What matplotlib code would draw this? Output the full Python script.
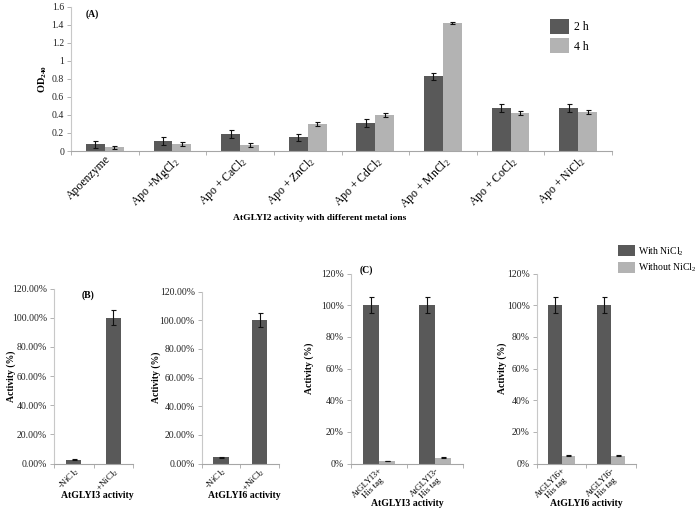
import matplotlib
matplotlib.use("Agg")
import matplotlib.pyplot as plt
import numpy as np

plt.rcParams['font.family'] = ['Liberation Serif', 'DejaVu Serif']
plt.rcParams['mathtext.fontset'] = 'custom'
plt.rcParams['mathtext.rm'] = 'Liberation Serif'
plt.rcParams['mathtext.bf'] = 'Liberation Serif:bold'
plt.rcParams['mathtext.default'] = 'regular'

# ---------------- data ----------------
a_categories = ['Apoenzyme', 'Apo +MgCl$_2$', 'Apo + CaCl$_2$', 'Apo + ZnCl$_2$',
                'Apo + CdCl$_2$', 'Apo + MnCl$_2$', 'Apo + CoCl$_2$', 'Apo + NiCl$_2$']
a_2h = [0.074, 0.114, 0.185, 0.152, 0.307, 0.83, 0.477, 0.473]
a_2h_err = [0.04, 0.045, 0.045, 0.04, 0.045, 0.04, 0.04, 0.045]
a_4h = [0.04, 0.078, 0.067, 0.30, 0.40, 1.419, 0.42, 0.43]
a_4h_err = [0.02, 0.02, 0.02, 0.02, 0.02, 0.015, 0.02, 0.02]
a_series = ['2 h', '4 h']
a_yticks = [0, 0.2, 0.4, 0.6, 0.8, 1.0, 1.2, 1.4, 1.6]
a_yticklabels = ['0', '0.2', '0.4', '0.6', '0.8', '1', '1.2', '1.4', '1.6']

b_categories = ['-NiCl$_2$', '+NiCl$_2$']
b3_values = [0.025, 1.00]
b3_err = [0.003, 0.05]
b6_values = [0.042, 1.00]
b6_err = [0.004, 0.05]
b_yticks = [0, 0.2, 0.4, 0.6, 0.8, 1.0, 1.2]
b_yticklabels = ['0.00%', '20.00%', '40.00%', '60.00%', '80.00%', '100.00%', '120.00%']

c3_categories = ['AtGLYI3+\nHis tag', 'AtGLYI3-\nHis tag']
c6_categories = ['AtGLYI6+\nHis tag', 'AtGLYI6-\nHis tag']
c_series = ['With NiCl$_2$', 'Without NiCl$_2$']
c3_with = [1.00, 1.00]
c3_with_err = [0.05, 0.05]
c3_without = [0.015, 0.035]
c3_without_err = [0.002, 0.003]
c6_with = [1.00, 1.00]
c6_with_err = [0.05, 0.05]
c6_without = [0.05, 0.05]
c6_without_err = [0.003, 0.003]
c_yticklabels = ['0%', '20%', '40%', '60%', '80%', '100%', '120%']

DARK = '#595959'
LIGHT = '#b3b3b3'
W, H = 699, 514

fig = plt.figure(figsize=(W / 100, H / 100), dpi=100)


def ax_px(left, right, top, bottom):
    return fig.add_axes([left / W, 1 - bottom / H, (right - left) / W, (bottom - top) / H])


def style(ax, n, ylim, yticks, yticklabels, ytick_fs):
    for s in ['top', 'right']:
        ax.spines[s].set_visible(False)
    ax.spines['left'].set_color('#c8c8c8')
    ax.spines['bottom'].set_color('#a6a6a6')
    ax.spines['left'].set_linewidth(0.8)
    ax.spines['bottom'].set_linewidth(0.8)
    ax.set_xlim(-0.5, n - 0.5)
    ax.set_ylim(*ylim)
    ax.set_yticks(yticks)
    ax.set_yticklabels(yticklabels, fontsize=ytick_fs, color='#222222')
    ax.tick_params(axis='y', length=3, width=0.6, color='#a6a6a6', pad=2)
    ax.set_xticks(np.arange(-0.5, n, 1.0), minor=True)
    ax.tick_params(axis='x', which='minor', length=3, width=0.6, color='#a6a6a6')
    ax.tick_params(axis='x', which='major', length=0, pad=2)


ekw = dict(ecolor='#111111', elinewidth=0.8, capsize=1.8, capthick=0.8)

# ---------------- Panel A ----------------
axA = ax_px(71, 612, 6.7, 151)
x = np.arange(len(a_categories))
bw = 0.28
axA.bar(x - bw / 2, a_2h, bw, color=DARK, yerr=a_2h_err, error_kw=ekw, label=a_series[0])
axA.bar(x + bw / 2, a_4h, bw, color=LIGHT, yerr=a_4h_err, error_kw=ekw, label=a_series[1])
style(axA, len(a_categories), (0, 1.6), a_yticks, a_yticklabels, 7)
axA.set_xticks(x)
axA.set_xticklabels(a_categories, rotation=45, ha='right', rotation_mode='anchor', fontsize=8.5)
axA.set_ylabel('OD$_{240}$', fontsize=7.5, fontweight='bold')
axA.yaxis.set_label_coords(-(71 - 49) / 541, 0.5)
axA.set_xlabel('AtGLYI2 activity with different metal ions', fontsize=6.8, fontweight='bold')
axA.xaxis.set_label_coords((320 - 71) / 541, -(214 - 151) / 144.3)
fig.text(86 / W, 1 - 14 / H, '(A)', fontsize=7, fontweight='bold', va='center', ha='left')
axA.legend(loc='upper left', bbox_to_anchor=(550 / W, 1 - 19 / H), bbox_transform=fig.transFigure,
           frameon=False, fontsize=8.5, handlelength=1.6, handleheight=1.6, handletextpad=0.4,
           labelspacing=0.35, borderaxespad=0, borderpad=0)


# ---------------- Panel B ----------------
def panel_b(left, right, top, values, err, ylabel_x, title):
    bottom = 463.5
    ax = ax_px(left, right, top, bottom)
    xb = np.arange(len(b_categories))
    ax.bar(xb, values, 0.39, color=DARK, yerr=err, error_kw=ekw)
    style(ax, len(b_categories), (0, 1.2), b_yticks, b_yticklabels, 7)
    ax.set_xticks(xb)
    ax.set_xticklabels(b_categories, rotation=45, ha='right', rotation_mode='anchor', fontsize=6.5)
    ax.set_ylabel('Activity (%)', fontsize=7, fontweight='bold')
    ax.yaxis.set_label_coords(-(left - ylabel_x) / (right - left), 0.5)
    ax.set_xlabel(title, fontsize=7, fontweight='bold')
    ax.xaxis.set_label_coords(0.55, -(491 - bottom) / (bottom - top))
    return ax


panel_b(54, 133, 288.5, b3_values, b3_err, 16, 'AtGLYI3 activity')
panel_b(201.7, 279, 291.5, b6_values, b6_err, 161, 'AtGLYI6 activity')
fig.text(82 / W, 1 - 295 / H, '(B)', fontsize=7, fontweight='bold', va='center', ha='left')


# ---------------- Panel C ----------------
def panel_c(left, right, cats, with_v, with_e, without_v, without_e, ylabel_x, title, legend=False):
    top = 273.5
    bottom = 463.5
    ax = ax_px(left, right, top, bottom)
    xc = np.arange(len(cats))
    cw = 0.28
    ax.bar(xc - cw / 2, with_v, cw, color=DARK, yerr=with_e, error_kw=ekw, label=c_series[0])
    ax.bar(xc + cw / 2, without_v, cw, color=LIGHT, yerr=without_e, error_kw=ekw, label=c_series[1])
    style(ax, len(cats), (0, 1.2), b_yticks, c_yticklabels, 7)
    ax.set_xticks(xc)
    ax.set_xticklabels(cats, rotation=45, ha='right', rotation_mode='anchor', fontsize=6.5,
                       multialignment='center', linespacing=0.95)
    ax.set_ylabel('Activity (%)', fontsize=7, fontweight='bold')
    ax.yaxis.set_label_coords(-(left - ylabel_x) / (right - left), 0.5)
    ax.set_xlabel(title, fontsize=7, fontweight='bold')
    ax.xaxis.set_label_coords(0.5, -(499 - bottom) / (bottom - top))
    if legend:
        ax.legend(loc='upper left', bbox_to_anchor=(618 / W, 1 - 245 / H),
                  bbox_transform=fig.transFigure, frameon=False, fontsize=7,
                  handlelength=1.7, handleheight=1.4, handletextpad=0.4,
                  labelspacing=0.4, borderaxespad=0, borderpad=0)
    return ax


panel_c(350.7, 463.3, c3_categories, c3_with, c3_with_err, c3_without, c3_without_err,
        314, 'AtGLYI3 activity')
panel_c(536.7, 636, c6_categories, c6_with, c6_with_err, c6_without, c6_without_err,
        507, 'AtGLYI6 activity', legend=True)
fig.text(360 / W, 1 - 270 / H, '(C)', fontsize=7, fontweight='bold', va='center', ha='left')

fig.savefig('out.png', dpi=100)
